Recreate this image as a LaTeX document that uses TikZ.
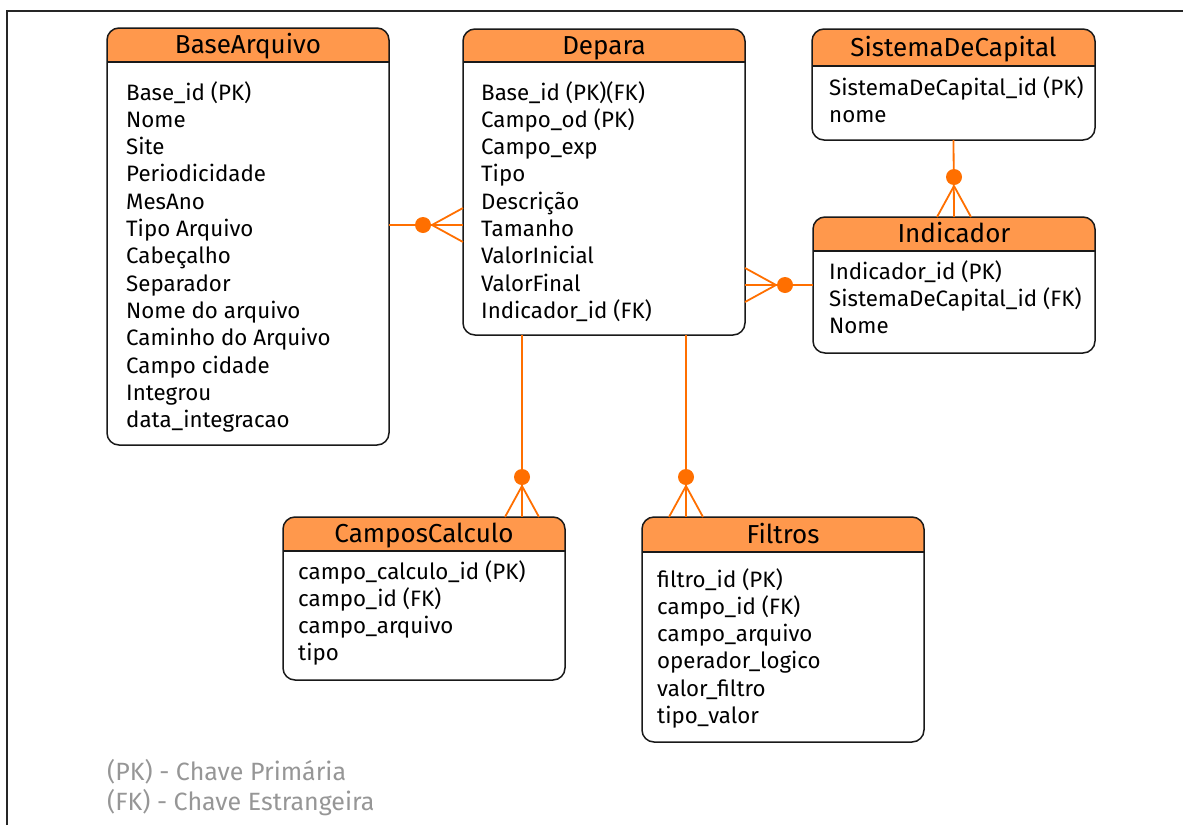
\documentclass[tikz,border=0pt]{standalone}
\usepackage{fontspec}
\setmainfont{Fira Sans}
\usetikzlibrary{calc}

\definecolor{headorange}{RGB}{255,152,76}
\definecolor{relorange}{RGB}{255,111,0}
\definecolor{legendgray}{RGB}{150,150,150}

\newcommand{\entrysize}[0]{\fontsize{22.3}{26}\selectfont}
\newcommand{\titlesize}[0]{\fontsize{26}{30}\selectfont}
\newcommand{\legendsize}[0]{\fontsize{25}{28}\selectfont}

\tikzstyle{tablebox}=[
  rectangle,
  inner sep=0pt,
  outer sep=0pt,
  anchor=north west,
]
\tikzstyle{tableline}=[
  draw=black!90,
  line width=1.5pt,
]
\tikzstyle{title}=[
  inner sep=0pt,
  anchor=base,
  font=\titlesize,
]
\tikzstyle{entry}=[
  inner sep=0pt,
  anchor=base west,
  font=\entrysize,
]
\tikzstyle{legend}=[
  entry,
  text=legendgray,
  font=\legendsize,
]
\tikzstyle{rel}=[draw=relorange,line width=1.8pt]
\tikzstyle{reldot}=[fill=relorange]

% name, x, y, width, height, header height, title
\newcommand{\ertable}[7]{
  \node[tablebox, minimum width=#4, minimum height=#5] (#1) at (#2,#3) {};
  \begin{scope}
    \clip[rounded corners=12pt] (#1.north west) rectangle (#1.south east);
    \fill[headorange] (#1.north west) rectangle ([yshift=-#6]#1.north east);
  \end{scope}
  \draw[tableline, rounded corners=12pt] (#1.north west) rectangle (#1.south east);
  \draw[tableline] ([yshift=-#6]#1.north west) -- ([yshift=-#6]#1.north east);
  \node[title] (#1-title) at ([yshift=-#6/2-8.5]#1.north) {#7};
}

% end point on the table, direction pointing away from it
\newcommand{\crowfoot}[2]{
  \begin{scope}[shift={(#1)}, rotate=#2, x=1pt, y=1pt]
    \draw[rel] (31,0) -- (0,17) (31,0) -- (0,-17);
    \fill[reldot] (40,0) circle (8pt);
  \end{scope}
}

\begin{document}
\begin{tikzpicture}[x=1pt,y=-1pt]
  \useasboundingbox (0,0) rectangle (1183,825);
  \draw[line width=1.5pt, black!85] (7,825) -- (7,11) -- (1183,11);

  \ertable{base}{107}{28}{282}{417}{34}{BaseArquivo}
  \ertable{depara}{463}{29}{282}{306}{33}{Depara}
  \ertable{sis}{812}{29}{283}{111}{37}{SistemaDeCapital}
  \ertable{ind}{813}{217}{282}{136}{34}{Indicador}
  \ertable{calc}{283}{517}{282}{163}{34}{CamposCalculo}
  \ertable{filt}{642}{517}{282}{225}{35}{Filtros}

  \foreach \t [count=\i] in {Base\_id (PK), Nome, Site, Periodicidade, MesAno,
      Tipo Arquivo, Cabeçalho, Separador, Nome do arquivo, Caminho do Arquivo,
      Campo cidade, Integrou, data\_integracao}
    \node[entry] (base-\i) at ({126},{100+27.3*(\i-1)}) {\t};
  \foreach \t [count=\i] in {Base\_id (PK)(FK), Campo\_od (PK), Campo\_exp, Tipo,
      Descrição, Tamanho, ValorInicial, ValorFinal, Indicador\_id (FK)}
    \node[entry] (depara-\i) at ({481},{100+27.3*(\i-1)}) {\t};
  \foreach \t [count=\i] in {SistemaDeCapital\_id (PK), nome}
    \node[entry] (sis-\i) at ({829},{95+27.3*(\i-1)}) {\t};
  \foreach \t [count=\i] in {Indicador\_id (PK), SistemaDeCapital\_id (FK), Nome}
    \node[entry] (ind-\i) at ({829},{279+27.3*(\i-1)}) {\t};
  \foreach \t [count=\i] in {campo\_calculo\_id (PK), campo\_id (FK), campo\_arquivo, tipo}
    \node[entry] (calc-\i) at ({298},{579+27.3*(\i-1)}) {\t};
  \foreach \t [count=\i] in {filtro\_id (PK), campo\_id (FK), campo\_arquivo,
      operador\_logico, valor\_filtro, tipo\_valor}
    \node[entry] (filt-\i) at ({657},{587+27.3*(\i-1)}) {\t};

  \node[legend] (pk) at (107,780) {(PK) - Chave Primária};
  \node[legend] (fk) at (107,810) {(FK) - Chave Estrangeira};

  % relations
  \draw[rel] (base.east |- 0,225) -- (depara.west |- 0,225);
  \crowfoot{depara.west |- 0,225}{180}
  \draw[rel] (depara.east |- 0,285) -- (ind.west |- 0,285);
  \crowfoot{depara.east |- 0,285}{0}
  \draw[rel] (sis.south) -- (ind.north);
  \crowfoot{ind.north}{90}
  \draw[rel] (depara.south -| 522,0) -- (calc.north -| 522,0);
  \crowfoot{calc.north -| 522,0}{90}
  \draw[rel] (depara.south -| 686,0) -- (filt.north -| 686,0);
  \crowfoot{filt.north -| 686,0}{90}
\end{tikzpicture}
\end{document}
